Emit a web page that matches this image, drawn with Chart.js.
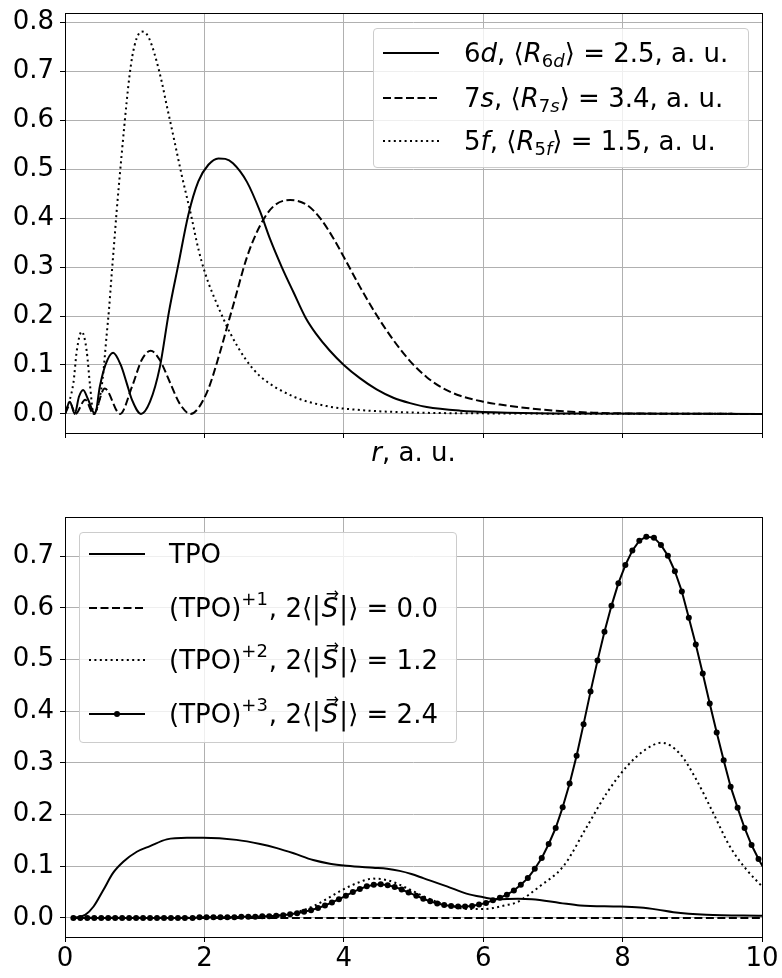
<!DOCTYPE html>
<html>
<head>
<meta charset="utf-8">
<script src="https://cdn.jsdelivr.net/npm/chart.js@4.4.1/dist/chart.umd.min.js"></script>
<style>
  body { margin: 0; background: #fff; font-family: 'DejaVu Sans', sans-serif; color: #000; }
  #wrap { position: relative; width: 782px; height: 978px; overflow: hidden; }
  canvas { position: absolute; left: 0; }
  .legend { position: absolute; background: rgba(255,255,255,0.8); border: 1px solid #cccccc; border-radius: 4px; box-sizing: border-box; font-size: 26px; }
  .row { position: absolute; left: 0; right: 0; height: 36px; }
  .row svg { position: absolute; left: 9px; top: 13px; }
  .row .txt { position: absolute; top: 0; line-height: 36px; white-space: nowrap; }
  i { font-style: italic; }
  .sub { font-size: 18px; position: relative; top: 5px; }
  .sup { font-size: 18px; position: relative; top: -12px; margin-right: 1px; }
  .vec { position: relative; font-style: italic; margin: 0 1px; }
  .vec .arr { position: absolute; left: 4px; top: -9px; font-size: 16px; font-style: normal; line-height: normal; }
  .bar { display: inline-block; transform: scaleY(1.15); }
  #xtitle { position: absolute; top: 434px; left: 65px; width: 697px; text-align: center; font-size: 26px; line-height: 36px; }
</style>
</head>
<body>
<div id="wrap">
  <canvas id="topChart" width="782" height="480" style="top:0"></canvas>
  <canvas id="botChart" width="782" height="498" style="top:480px"></canvas>
  <div id="xtitle"><i>r</i>, a. u.</div>

  <div class="legend" style="left:373px; top:28px; width:376px; height:140px;">
    <div class="row" style="top:6px;">
      <svg width="60" height="10"><line x1="0" y1="5" x2="56" y2="5" stroke="#000" stroke-width="2"/></svg>
      <span class="txt" style="left:90px">6<i>d</i>, ⟨<i>R</i><span class="sub">6<i>d</i></span>⟩ = 2.5, a. u.</span>
    </div>
    <div class="row" style="top:51px;">
      <svg width="60" height="10"><line x1="0" y1="5" x2="56" y2="5" stroke="#000" stroke-width="2" stroke-dasharray="8 3.5"/></svg>
      <span class="txt" style="left:90px">7<i>s</i>, ⟨<i>R</i><span class="sub">7<i>s</i></span>⟩ = 3.4, a. u.</span>
    </div>
    <div class="row" style="top:94px;">
      <svg width="60" height="10"><line x1="0" y1="5" x2="56" y2="5" stroke="#000" stroke-width="2" stroke-dasharray="2 3.4"/></svg>
      <span class="txt" style="left:90px">5<i>f</i>, ⟨<i>R</i><span class="sub">5<i>f</i></span>⟩ = 1.5, a. u.</span>
    </div>
  </div>

  <div class="legend" style="left:79px; top:532px; width:378px; height:211px;">
    <div class="row" style="top:3px;">
      <svg width="60" height="10"><line x1="0" y1="5" x2="56" y2="5" stroke="#000" stroke-width="2"/></svg>
      <span class="txt" style="left:89px">TPO</span>
    </div>
    <div class="row" style="top:57px;">
      <svg width="60" height="10"><line x1="0" y1="5" x2="56" y2="5" stroke="#000" stroke-width="2" stroke-dasharray="8 3.5"/></svg>
      <span class="txt" style="left:89px">(TPO)<span class="sup">+1</span>, 2⟨<span class="bar">|</span><span class="vec">S<span class="arr">→</span></span><span class="bar">|</span>⟩ = 0.0</span>
    </div>
    <div class="row" style="top:109px;">
      <svg width="60" height="10"><line x1="0" y1="5" x2="56" y2="5" stroke="#000" stroke-width="2" stroke-dasharray="2 3.4"/></svg>
      <span class="txt" style="left:89px">(TPO)<span class="sup">+2</span>, 2⟨<span class="bar">|</span><span class="vec">S<span class="arr">→</span></span><span class="bar">|</span>⟩ = 1.2</span>
    </div>
    <div class="row" style="top:163px;">
      <svg width="60" height="10"><line x1="0" y1="5" x2="56" y2="5" stroke="#000" stroke-width="2"/><circle cx="28" cy="5" r="3" fill="#000"/></svg>
      <span class="txt" style="left:89px">(TPO)<span class="sup">+3</span>, 2⟨<span class="bar">|</span><span class="vec">S<span class="arr">→</span></span><span class="bar">|</span>⟩ = 2.4</span>
    </div>
  </div>
</div>

<script>
// common x ticks (r, a.u.)
const xTicks = [0, 2, 4, 6, 8, 10];
const yTicksTop = [0, 0.1, 0.2, 0.3, 0.4, 0.5, 0.6, 0.7, 0.8];
const yTicksBot = [0, 0.1, 0.2, 0.3, 0.4, 0.5, 0.6, 0.7];

// top panel: radial densities
const r6d = [0, 0.07, 0.14, 0.2, 0.26, 0.33, 0.43, 0.5, 0.58, 0.69, 0.8, 0.885, 0.96, 1.09, 1.22, 1.36, 1.492, 1.626, 1.77, 1.913, 2.057, 2.2, 2.3, 2.41, 2.61, 2.8, 2.94, 3.11, 3.28, 3.45, 3.6, 3.8, 4.0, 4.23, 4.47, 4.71, 4.95, 5.19, 5.67, 6.15, 7, 10];
const p6d = [0, 0.025, 0, 0.035, 0.049, 0.03, 0, 0.056, 0.1, 0.125, 0.1, 0.063, 0.029, 0, 0.025, 0.095, 0.209, 0.305, 0.407, 0.475, 0.509, 0.522, 0.521, 0.512, 0.474, 0.413, 0.358, 0.3, 0.248, 0.197, 0.164, 0.129, 0.1, 0.073, 0.05, 0.033, 0.022, 0.014, 0.0066, 0.0033, 0.001, 0];

const r7s = [0, 0.08, 0.15, 0.29, 0.41, 0.57, 0.79, 0.96, 1.1, 1.23, 1.36, 1.51, 1.65, 1.8, 2.03, 2.22, 2.32, 2.42, 2.61, 2.8, 2.99, 3.23, 3.47, 3.66, 3.85, 4.01, 4.23, 4.47, 4.71, 4.95, 5.19, 5.43, 5.67, 6.0, 6.24, 6.62, 7.0, 7.58, 8.5, 10];
const p7s = [0, 0.02, 0, 0.029, 0, 0.052, 0, 0.055, 0.11, 0.129, 0.11, 0.063, 0.02, 0, 0.042, 0.124, 0.175, 0.225, 0.32, 0.385, 0.424, 0.437, 0.427, 0.4, 0.359, 0.318, 0.26, 0.202, 0.151, 0.108, 0.075, 0.052, 0.037, 0.025, 0.019, 0.012, 0.007, 0.0025, 0.0005, 0];

const r5f = [0, 0.12, 0.17, 0.24, 0.31, 0.36, 0.41, 0.53, 0.6, 0.631, 0.669, 0.707, 0.741, 0.775, 0.813, 0.852, 0.885, 0.923, 0.966, 1.028, 1.1, 1.172, 1.243, 1.315, 1.387, 1.458, 1.53, 1.602, 1.674, 1.746, 1.818, 1.889, 1.961, 2.057, 2.152, 2.224, 2.37, 2.6, 2.8, 3.27, 3.75, 4.23, 4.95, 6.15, 10];
const p5f = [0, 0.063, 0.13, 0.168, 0.13, 0.057, 0, 0.06, 0.165, 0.213, 0.284, 0.352, 0.414, 0.47, 0.53, 0.59, 0.638, 0.688, 0.731, 0.767, 0.781, 0.776, 0.754, 0.72, 0.679, 0.631, 0.584, 0.536, 0.488, 0.444, 0.4, 0.352, 0.311, 0.268, 0.234, 0.21, 0.165, 0.11, 0.077, 0.036, 0.016, 0.008, 0.003, 0.001, 0];

// bottom panel: spin densities
const rTpo = [0.12, 0.29, 0.41, 0.55, 0.69, 0.84, 1.03, 1.22, 1.46, 1.75, 1.98, 2.46, 2.8, 3.04, 3.28, 3.56, 3.8, 4.04, 4.42, 4.62, 4.8, 4.97, 5.14, 5.48, 5.76, 6.0, 6.19, 6.5, 6.7, 7.1, 7.39, 7.96, 8.25, 8.5, 8.73, 9.2, 10];
const pTpo = [0, 0.006, 0.022, 0.054, 0.087, 0.109, 0.128, 0.139, 0.152, 0.155, 0.155, 0.151, 0.143, 0.135, 0.125, 0.112, 0.105, 0.101, 0.097, 0.095, 0.091, 0.085, 0.077, 0.061, 0.047, 0.04, 0.036, 0.037, 0.036, 0.029, 0.024, 0.022, 0.02, 0.016, 0.011, 0.006, 0.004];

const rTpo1 = [0.12, 10];
const pTpo1 = [0, 0];

const rTpo2 = [0.12, 2.5, 3.0, 3.3, 3.6, 3.95, 4.2, 4.42, 4.65, 4.9, 5.14, 5.38, 5.6, 5.8, 6.0, 6.14, 6.3, 6.48, 6.81, 7.15, 7.49, 7.77, 8.06, 8.32, 8.56, 8.82, 9.06, 9.3, 9.54, 9.78, 10];
const pTpo2 = [0, 0.001, 0.004, 0.01, 0.025, 0.052, 0.068, 0.076, 0.072, 0.058, 0.042, 0.029, 0.021, 0.017, 0.017, 0.019, 0.024, 0.03, 0.061, 0.1, 0.177, 0.241, 0.293, 0.325, 0.339, 0.318, 0.267, 0.203, 0.138, 0.093, 0.061];

const rTpo3 = [
  0.12, 0.22, 0.32, 0.42, 0.52, 0.62, 0.72, 0.82, 0.92, 1.02,
  1.12, 1.22, 1.32, 1.42, 1.52, 1.62, 1.72, 1.83, 1.93, 2.03,
  2.13, 2.23, 2.33, 2.43, 2.53, 2.63, 2.73, 2.83, 2.93, 3.03,
  3.13, 3.23, 3.33, 3.43, 3.53, 3.63, 3.73, 3.83, 3.93, 4.03,
  4.13, 4.23, 4.33, 4.43, 4.53, 4.63, 4.73, 4.83, 4.93, 5.04,
  5.14, 5.24, 5.34, 5.44, 5.54, 5.64, 5.74, 5.84, 5.94, 6.04,
  6.14, 6.24, 6.34, 6.44, 6.54, 6.64, 6.74, 6.84, 6.94, 7.04,
  7.14, 7.24, 7.34, 7.44, 7.54, 7.64, 7.74, 7.84, 7.94, 8.04,
  8.14, 8.24, 8.34, 8.45, 8.55, 8.65, 8.75, 8.85, 8.95, 9.05,
  9.15, 9.25, 9.35, 9.45, 9.55, 9.65, 9.75, 9.85, 9.95, 10.05
];
const pTpo3 = [
  0, 0, 0, 0, 0, 0, 0, 0, 0, 0,
  0, 0, 0, 0, 0, 0, 0, 0, 0.001, 0.001,
  0.001, 0.001, 0.001, 0.001, 0.002, 0.002, 0.002, 0.003, 0.003, 0.004,
  0.005, 0.007, 0.009, 0.012, 0.015, 0.019, 0.024, 0.030, 0.036, 0.043,
  0.050, 0.056, 0.061, 0.064, 0.065, 0.063, 0.060, 0.055, 0.049, 0.043,
  0.037, 0.032, 0.028, 0.025, 0.023, 0.022, 0.022, 0.023, 0.026, 0.029,
  0.034, 0.039, 0.045, 0.053, 0.064, 0.077, 0.095, 0.116, 0.143, 0.174,
  0.214, 0.260, 0.314, 0.375, 0.438, 0.498, 0.554, 0.604, 0.648, 0.683,
  0.711, 0.730, 0.738, 0.736, 0.722, 0.701, 0.671, 0.632, 0.581, 0.529,
  0.473, 0.415, 0.359, 0.305, 0.254, 0.213, 0.174, 0.141, 0.114, 0.090
];

const FONT = { family: "'DejaVu Sans', sans-serif", size: 26 };
const GRID = '#b0b0b0';
const DASHED = [8, 3.5];
const DOTTED = [2, 3.4];

const pts = (xs, ys) => xs.map((x, i) => ({ x: x, y: ys[i] }));

function curve(xs, ys, dash, marker) {
    return {
        data: pts(xs, ys),
        borderColor: '#000',
        backgroundColor: '#000',
        borderWidth: 2,
        borderDash: dash || [],
        borderCapStyle: 'butt',
        pointRadius: marker ? 3 : 0,
        pointBorderWidth: 0,
        pointBackgroundColor: '#000',
        cubicInterpolationMode: marker ? 'default' : 'monotone',
        tension: 0,
        fill: false
    };
}

// box round the plot area, like matplotlib spines
const frame = {
    id: 'frame',
    afterDraw(chart) {
        const { ctx, chartArea: a } = chart;
        ctx.save();
        ctx.strokeStyle = '#000';
        ctx.lineWidth = 1;
        ctx.strokeRect(Math.round(a.left) + 0.5, Math.round(a.top) + 0.5,
            Math.round(a.right - a.left), Math.round(a.bottom - a.top));
        ctx.restore();
    }
};

function scales(yMin, yMax, yTicks, xLabels, xHeight) {
    return {
        x: {
            type: 'linear', min: 0, max: 10,
            afterBuildTicks: s => { s.ticks = xTicks.map(v => ({ value: v })); },
            afterFit: s => { s.height = xHeight; s.paddingLeft = 0; s.paddingRight = 0; },
            border: { display: false },
            grid: { color: GRID, lineWidth: 1, tickColor: '#000', tickLength: 5 },
            ticks: { color: '#000', font: FONT, padding: 2, maxRotation: 0, autoSkip: false,
                     callback: v => xLabels ? String(v) : '' }
        },
        y: {
            type: 'linear', min: yMin, max: yMax,
            afterBuildTicks: s => { s.ticks = yTicks.map(v => ({ value: v })); },
            afterFit: s => { s.width = 65; s.paddingTop = 0; s.paddingBottom = 0; },
            border: { display: false },
            grid: { color: GRID, lineWidth: 1, tickColor: '#000', tickLength: 5 },
            ticks: { color: '#000', font: FONT, padding: 6, autoSkip: false,
                     callback: v => v.toFixed(1) }
        }
    };
}

const common = {
    responsive: false,
    animation: false,
    devicePixelRatio: 1,
    plugins: { legend: { display: false }, tooltip: { enabled: false } },
    elements: { line: { borderJoinStyle: 'round' } }
};

new Chart(document.getElementById('topChart'), {
    type: 'line',
    data: {
        datasets: [
            curve(r6d, p6d),
            curve(r7s, p7s, DASHED),
            curve(r5f, p5f, DOTTED)
        ]
    },
    options: Object.assign({}, common, {
        layout: { padding: { top: 13, right: 20, left: 0, bottom: 0 } },
        scales: scales(-0.039, 0.819, yTicksTop, false, 47)
    }),
    plugins: [frame]
});

new Chart(document.getElementById('botChart'), {
    type: 'line',
    data: {
        datasets: [
            curve(rTpo, pTpo),
            curve(rTpo1, pTpo1, DASHED),
            curve(rTpo2, pTpo2, DOTTED),
            curve(rTpo3, pTpo3, null, true)
        ]
    },
    options: Object.assign({}, common, {
        layout: { padding: { top: 37, right: 20, left: 0, bottom: 0 } },
        scales: scales(-0.037, 0.776, yTicksBot, true, 41)
    }),
    plugins: [frame]
});
</script>
</body>
</html>
